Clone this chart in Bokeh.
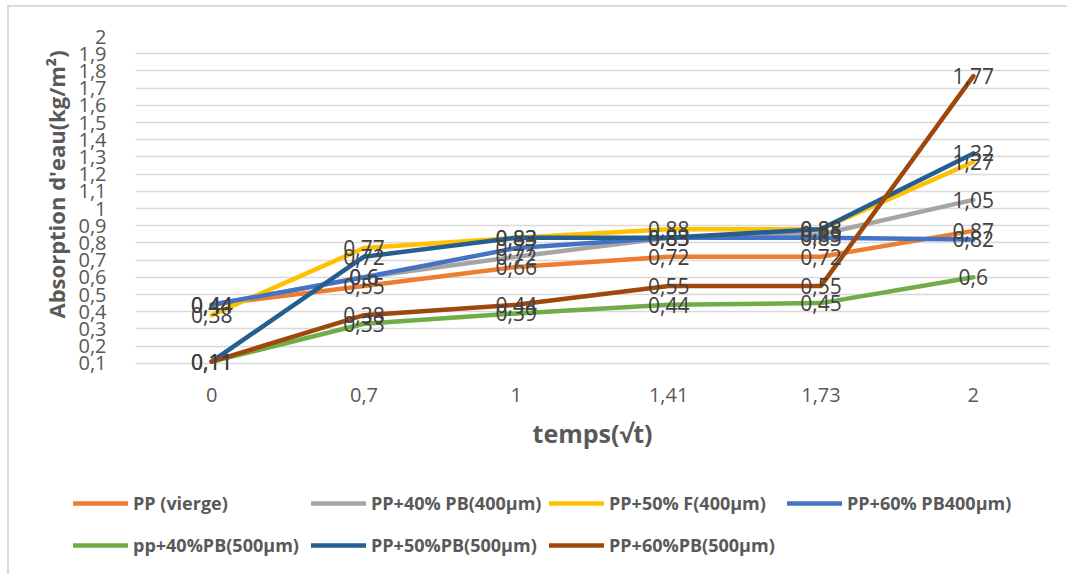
from bokeh.plotting import figure
from bokeh.layouts import column
from bokeh.models import (FactorRange, Range1d, FixedTicker, Legend, LegendItem,
                          ColumnDataSource, Title)
from bokeh.core.properties import value
from bokeh.embed import file_html
from bokeh.resources import INLINE

# time axis (square root of time) as categories
temps = ["0", "0,7", "1", "1,41", "1,73", "2"]

# water absorption (kg/m²) per formulation
pp_vierge = [0.44, 0.55, 0.66, 0.72, 0.72, 0.87]
pp40_pb400 = [0.44, 0.60, 0.72, 0.83, 0.85, 1.05]
pp50_f400 = [0.38, 0.77, 0.83, 0.88, 0.88, 1.27]
pp60_pb400 = [0.44, 0.60, 0.77, 0.83, 0.83, 0.82]
pp40_pb500 = [0.11, 0.33, 0.39, 0.44, 0.45, 0.60]
pp50_pb500 = [0.11, 0.72, 0.83, 0.83, 0.88, 1.32]
pp60_pb500 = [0.11, 0.38, 0.44, 0.55, 0.55, 1.77]

series_names = ["PP (vierge)", "PP+40% PB(400µm)", "PP+50% F(400µm)", "PP+60% PB400µm)",
                "pp+40%PB(500µm)", "PP+50%PB(500µm)", "PP+60%PB(500µm)"]
series_values = [pp_vierge, pp40_pb400, pp50_f400, pp60_pb400,
                 pp40_pb500, pp50_pb500, pp60_pb500]
series_colors = ["#ED7D31", "#A5A5A5", "#FFC000", "#4472C4",
                 "#70AD47", "#255E91", "#9E480E"]

y_ticks = [0.1, 0.2, 0.3, 0.4, 0.5, 0.6, 0.7, 0.8, 0.9, 1.0,
           1.1, 1.2, 1.3, 1.4, 1.5, 1.6, 1.7, 1.8, 1.9, 2.0]
y_tick_labels = ["0,1", "0,2", "0,3", "0,4", "0,5", "0,6", "0,7", "0,8", "0,9", "1",
                 "1,1", "1,2", "1,3", "1,4", "1,5", "1,6", "1,7", "1,8", "1,9", "2"]

FONT = "Open Sans"
GREY_TEXT = "#595959"
W = 1058

# the range starts a step below the first gridline so labels near 0,1 are not clipped
p = figure(width=W, height=467,
           x_range=FactorRange(*temps), y_range=Range1d(0.0, 2.0),
           output_backend="svg", toolbar_location=None,
           min_border_left=126, min_border_right=18,
           min_border_top=29, min_border_bottom=94)
p.frame_align = False
p.outline_line_color = None
p.background_fill_color = "white"
p.border_fill_color = "white"

# axes
p.yaxis.ticker = FixedTicker(ticks=y_ticks)
p.yaxis.major_label_overrides = dict(zip(y_ticks, y_tick_labels))
p.ygrid.ticker = FixedTicker(ticks=y_ticks)
p.ygrid.grid_line_color = "#d9d9d9"
p.ygrid.grid_line_width = 1.5
p.xgrid.grid_line_color = None

for ax in (p.xaxis[0], p.yaxis[0]):
    ax.axis_line_color = None
    ax.major_tick_line_color = None
    ax.minor_tick_line_color = None
    ax.major_label_text_font = FONT
    ax.major_label_text_font_size = "20px"
    ax.major_label_text_color = GREY_TEXT
    ax.axis_label_text_font = FONT
    ax.axis_label_text_font_style = "bold"
    ax.axis_label_text_color = GREY_TEXT

p.yaxis.major_label_standoff = 23

# vertical title, starting a little above the bottom of the frame
ytitle = Title(text="Absorption d'eau(kg/m²)", align="left", offset=62,
               standoff=10, text_font=FONT, text_font_style="bold",
               text_font_size="22px", text_color=GREY_TEXT)
p.add_layout(ytitle, "left")

p.xaxis.axis_label = "temps(√t)"
p.xaxis.axis_label_text_font_size = "25px"
p.xaxis.major_label_standoff = 1
p.xaxis.axis_label_standoff = 11

# lines
for vals, color in zip(series_values, series_colors):
    src = ColumnDataSource(dict(x=temps, y=vals))
    p.line("x", "y", source=src, line_color=color, line_width=4.5,
           line_cap="round", line_join="round")

# value labels, drawn above all lines
for vals in series_values:
    src = ColumnDataSource(dict(x=temps, y=vals,
                                t=[f"{v:g}".replace(".", ",") for v in vals]))
    p.text("x", "y", text="t", source=src, text_align="center",
           text_baseline="middle", text_font=value(FONT),
           text_font_size="21px", text_color="#404040")

# legend strip underneath the chart; its swatches reuse each series' first point
leg = figure(width=W, height=100, output_backend="svg", toolbar_location=None,
             x_axis_type=None, y_axis_type=None, min_border=0)
leg.frame_align = False
leg.outline_line_color = None
leg.grid.grid_line_color = None
items = []
for name, vals, color in zip(series_names, series_values, series_colors):
    src = ColumnDataSource(dict(x=[0], y=vals[:1]))
    r = leg.line("x", "y", source=src, line_color=color, line_width=4.5,
                 line_cap="round")
    items.append(LegendItem(label=name, renderers=[r]))

legend = Legend(items=items, location=(64, 9), orientation="horizontal",
                ncols=4, glyph_width=55, glyph_height=20,
                label_width=176, label_height=40, label_standoff=5,
                spacing=2, padding=0, margin=0,
                border_line_color=None, background_fill_alpha=0,
                label_text_font=FONT, label_text_font_style="bold",
                label_text_font_size="18px", label_text_color=GREY_TEXT)
leg.add_layout(legend, "center")

layout = column(p, leg, spacing=0)
layout.styles = {"margin-left": "7px", "margin-top": "5px",
                 "border-left": "2px solid #d9d9d9", "border-top": "2px solid #d9d9d9"}

open("out.html", "w").write(file_html(layout, INLINE))
